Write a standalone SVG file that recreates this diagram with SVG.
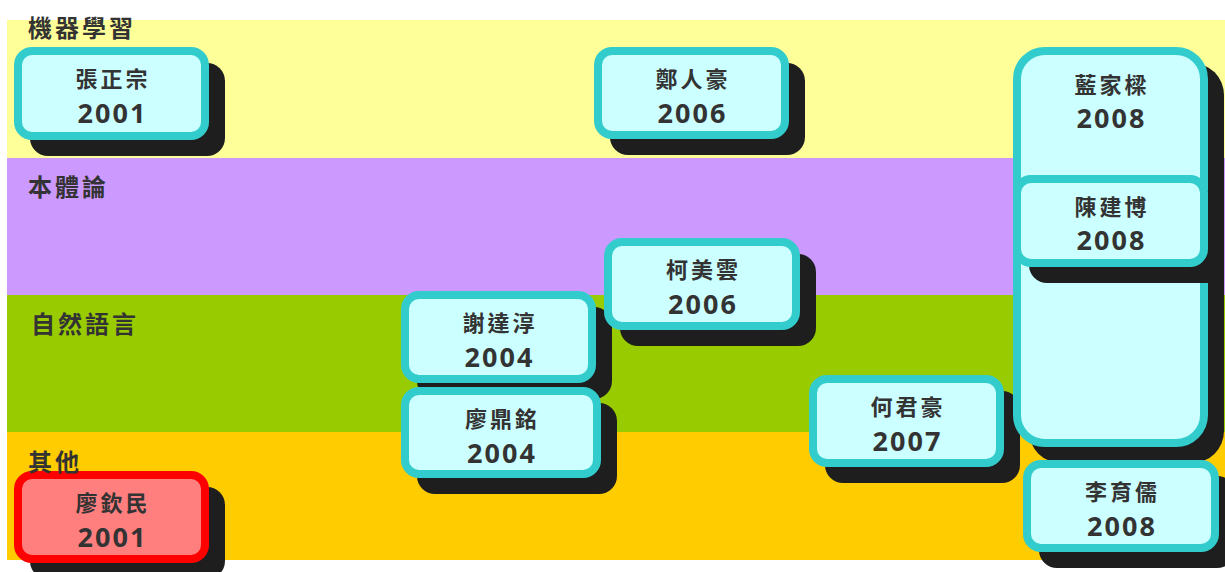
<svg xmlns="http://www.w3.org/2000/svg" width="1225" height="572" viewBox="0 0 1225 572">
<style>
.shadow{fill:#1e1e1e}
.box{fill:#ccffff;stroke:#33cccc;stroke-width:8}
.hl{fill:#ff7f7f;stroke:#ff0000;stroke-width:8}
.name{font-family:"Noto Sans CJK TC","Noto Sans CJK SC",sans-serif;font-weight:700;font-size:22px;fill:#333;text-anchor:middle;letter-spacing:3px}
.year{font-family:"Open Sans","DejaVu Sans",sans-serif;font-weight:700;font-size:27px;fill:#333;text-anchor:middle;letter-spacing:2px}
.lane{font-family:"Noto Sans CJK TC","Noto Sans CJK SC",sans-serif;font-weight:700;font-size:24px;fill:#333;letter-spacing:3px}
</style>
<rect x="0" y="0" width="1225" height="572" fill="#ffffff"/>
<g id="lanes">
<rect x="7" y="20" width="1218" height="138" fill="#ffff99"/>
<rect x="7" y="158" width="1218" height="137" fill="#cc99ff"/>
<rect x="7" y="295" width="1218" height="137" fill="#99cc00"/>
<rect x="7" y="432" width="1218" height="128" fill="#ffcc00"/>
</g>
<g id="n-zhang">
<rect class="shadow" x="30" y="63" width="195" height="93" rx="18"/>
<rect class="box" x="18" y="51" width="187" height="85" rx="14"/>
<text class="name" x="113" y="87">張正宗</text>
<text class="year" x="112.5" y="123">2001</text>
</g>
<g id="n-liaoqm">
<rect class="shadow" x="30" y="487" width="195" height="92" rx="18"/>
<rect class="hl" x="18" y="475" width="187" height="84" rx="14"/>
<text class="name" x="113" y="511">廖欽民</text>
<text class="year" x="112.5" y="547">2001</text>
</g>
<g id="n-xie">
<rect class="shadow" x="417" y="307" width="195" height="92" rx="18"/>
<rect class="box" x="405" y="295" width="187" height="84" rx="14"/>
<text class="name" x="500" y="331">謝達淳</text>
<text class="year" x="499.5" y="367">2004</text>
</g>
<g id="n-liaodm">
<rect class="shadow" x="417" y="403" width="200" height="91" rx="18"/>
<rect class="box" x="405" y="391" width="192" height="83" rx="14"/>
<text class="name" x="502.5" y="427">廖鼎銘</text>
<text class="year" x="502" y="463">2004</text>
</g>
<g id="n-zheng">
<rect class="shadow" x="610" y="63" width="195" height="92" rx="18"/>
<rect class="box" x="598" y="51" width="187" height="84" rx="14"/>
<text class="name" x="693" y="87">鄭人豪</text>
<text class="year" x="692.5" y="123">2006</text>
</g>
<g id="n-ke">
<rect class="shadow" x="620" y="254" width="196" height="92" rx="18"/>
<rect class="box" x="608" y="242" width="188" height="84" rx="14"/>
<text class="name" x="703.5" y="278">柯美雲</text>
<text class="year" x="703" y="314">2006</text>
</g>
<g id="n-he">
<rect class="shadow" x="825" y="391" width="195" height="92" rx="18"/>
<rect class="box" x="813" y="379" width="187" height="84" rx="14"/>
<text class="name" x="908" y="415">何君豪</text>
<text class="year" x="907.5" y="451">2007</text>
</g>
<g id="n-lan">
<rect class="shadow" x="1029" y="63" width="195" height="400" rx="32"/>
<rect class="box" x="1017" y="51" width="187" height="392" rx="28"/>
<text class="name" x="1112" y="93">藍家樑</text>
<text class="year" x="1111.5" y="128">2008</text>
</g>
<g id="n-chen">
<rect class="shadow" x="1029" y="191" width="195" height="92" rx="18"/>
<rect class="box" x="1017" y="179" width="187" height="84" rx="14"/>
<text class="name" x="1112" y="215">陳建博</text>
<text class="year" x="1111.5" y="250">2008</text>
</g>
<g id="n-li">
<rect class="shadow" x="1039" y="476" width="196" height="92" rx="18"/>
<rect class="box" x="1027" y="464" width="188" height="84" rx="14"/>
<text class="name" x="1122.5" y="500">李育儒</text>
<text class="year" x="1122" y="536">2008</text>
</g>
<g id="lane-labels">
<text class="lane" x="28" y="37">機器學習</text>
<text class="lane" x="28" y="196">本體論</text>
<text class="lane" x="31" y="333">自然語言</text>
<text class="lane" x="28" y="471">其他</text>
</g>
</svg>
